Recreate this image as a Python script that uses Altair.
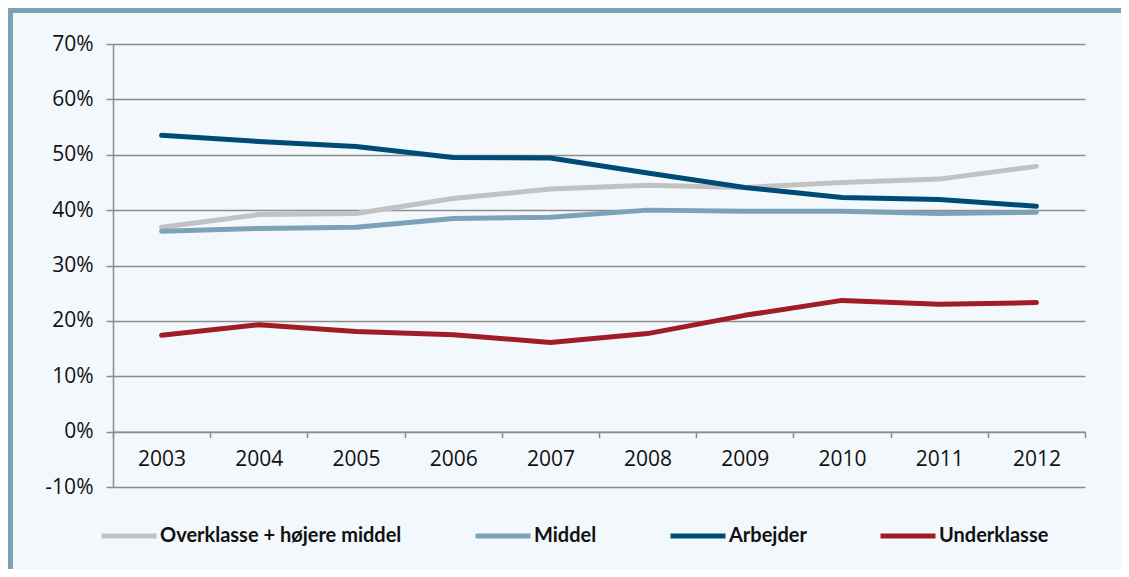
import altair as alt
import pandas as pd

years = ["2003", "2004", "2005", "2006", "2007", "2008", "2009", "2010", "2011", "2012"]
series_names = ["Overklasse + højere middel", "Middel", "Arbejder", "Underklasse"]
overklasse = [36.9, 39.2, 39.4, 42.1, 43.8, 44.5, 44.1, 45.0, 45.6, 47.9]
middel = [36.2, 36.7, 36.9, 38.5, 38.7, 40.0, 39.8, 39.8, 39.4, 39.6]
arbejder = [53.5, 52.4, 51.5, 49.5, 49.4, 46.7, 44.1, 42.3, 41.9, 40.7]
underklasse = [17.4, 19.3, 18.1, 17.5, 16.1, 17.7, 21.0, 23.7, 23.0, 23.3]
colors = ["#c2c2c2", "#7da2b8", "#004b74", "#a01d25"]
y_ticks = [-10, 0, 10, 20, 30, 40, 50, 60, 70]

rows = []
for name, vals in zip(series_names, [overklasse, middel, arbejder, underklasse]):
    for y, v in zip(years, vals):
        rows.append({"year": y, "value": v, "series": name, "order": series_names.index(name)})
df = pd.DataFrame(rows)

W, H = 972, 443
PL, PT, PR, PB = 105, 36, 36, 82
AXFONT = "Open Sans"
LEGFONT = "Lato"
GRID = "#8c8c8c"

lines = alt.Chart(df).mark_line(strokeWidth=5, strokeCap="round", strokeJoin="round").encode(
    x=alt.X("year:O", sort=years, bandPosition=0.5,
            scale=alt.Scale(type="band", paddingInner=0, paddingOuter=0),
            axis=alt.Axis(title=None, offset=-H / 8, tickBand="extent", labelAngle=0,
                          tickSize=6, labelPadding=11, domainColor=GRID, tickColor=GRID,
                          domainWidth=1.5, tickWidth=1.5, grid=False)),
    y=alt.Y("value:Q", scale=alt.Scale(domain=[-10, 70], nice=False, zero=False),
            axis=alt.Axis(title=None, values=y_ticks, labelExpr="datum.value + '%'",
                          tickSize=7, labelPadding=13, grid=True, gridColor=GRID,
                          gridWidth=1.5, domainColor=GRID, tickColor=GRID,
                          domainWidth=1.5, tickWidth=1.5)),
    color=alt.Color("series:N", sort=series_names,
                    scale=alt.Scale(domain=series_names, range=colors),
                    legend=alt.Legend(title=None, orient="none", direction="horizontal",
                                      legendX=-14, legendY=462, symbolType="stroke",
                                      symbolSize=3025, symbolStrokeWidth=5,
                                      columnPadding=63, labelOffset=1, labelLimit=500,
                                      labelFont=LEGFONT, labelFontSize=20,
                                      labelFontWeight="bold", labelColor="#111111")),
    order="order:Q",
)

deco_df = pd.DataFrame({"a": [0]})
left_border = alt.Chart(deco_df).mark_rect(color="#7da2b8").encode(
    x=alt.value(-PL), x2=alt.value(-PL + 5), y=alt.value(-PT), y2=alt.value(H + PB)
)
top_band = alt.Chart(deco_df).mark_rect(color="#7da2b8").encode(
    x=alt.value(-PL), x2=alt.value(W + PR), y=alt.value(-PT), y2=alt.value(-PT + 5)
)

chart = alt.layer(left_border, top_band, lines).properties(
    width=W, height=H,
    autosize=alt.AutoSizeParams(type="none"),
    padding={"left": PL, "top": PT, "right": PR, "bottom": PB},
    background="#f3f8fc",
).configure_view(stroke=None).configure_axis(
    labelFont=AXFONT, labelFontSize=21, labelColor="#111111"
)

chart.save("out.html", embed_options={"renderer": "svg", "actions": False})
